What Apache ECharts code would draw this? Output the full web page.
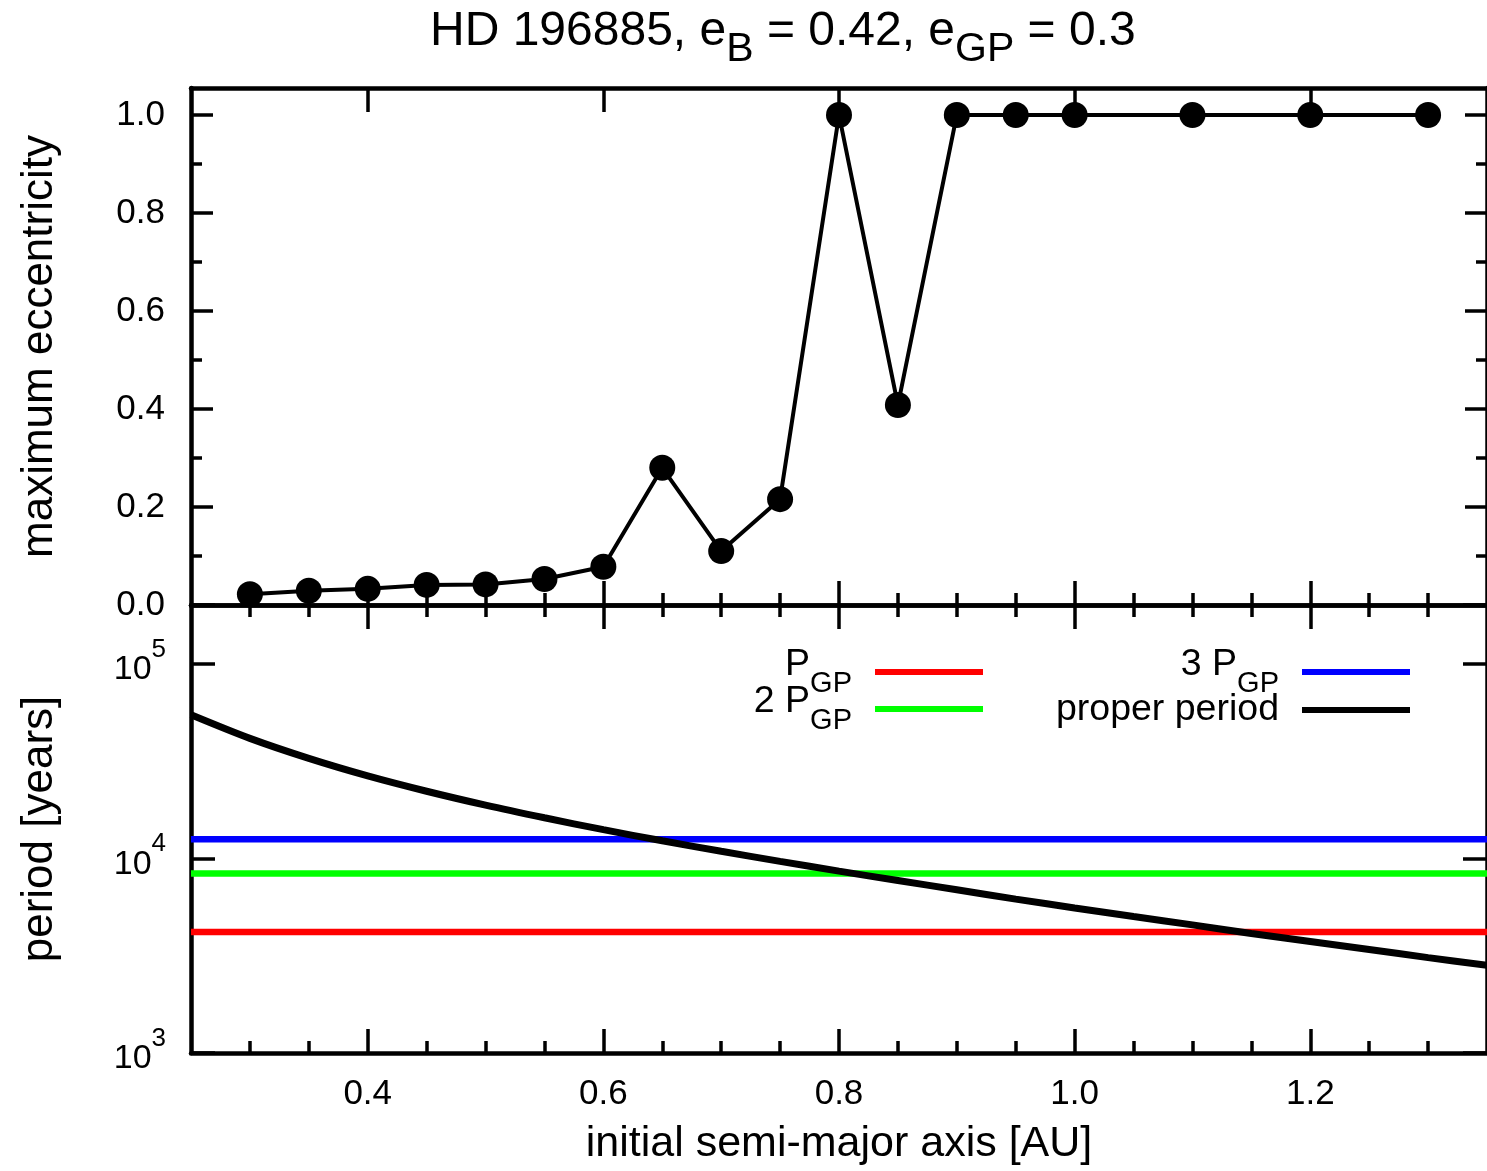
<!DOCTYPE html>
<html><head><meta charset="utf-8">
<script src="https://cdn.jsdelivr.net/npm/echarts@6/dist/echarts.min.js"></script>
<style>html,body{margin:0;padding:0;background:#fff}#c{width:1487px;height:1171px}</style>
</head><body><div id="c"></div>
<script>
// ---- data ----
const aTop = [0.30,0.35,0.40,0.45,0.50,0.55,0.60,0.65,0.70,0.75,0.80,0.85,0.90,0.95,1.00,1.10,1.20,1.30];
const eMax = [0.022,0.029,0.033,0.041,0.042,0.053,0.078,0.28,0.11,0.216,1.0,0.408,1.0,1.0,1.0,1.0,1.0,1.0];
const aCurve = [0.25,0.30,0.35,0.40,0.45,0.50,0.55,0.60,0.65,0.70,0.75,0.80,0.85,0.90,0.95,1.00,1.05,1.10,1.15,1.20,1.25,1.30,1.35];
const properPeriod = [54600,41300,32600,26500,22100,18750,16150,14030,12300,10870,9640,8590,7690,6890,6170,5560,5020,4550,4110,3740,3400,3090,2820];
const levelNames = ['P_GP','2 P_GP','3 P_GP'];
const periodLevels = [4180, 8360, 12540];
const xRange = [0.25, 1.35];
const eRange = [0, 1.055];
const pRange = [1000, 200000];
const aTicks = [0.4,0.6,0.8,1.0,1.2];
const aMinorTicks = [0.3,0.35,0.45,0.5,0.55,0.65,0.7,0.75,0.85,0.9,0.95,1.05,1.1,1.15,1.25,1.3];
const eTicks = [0,0.2,0.4,0.6,0.8,1.0];
const eMinorTicks = [0.1,0.3,0.5,0.7,0.9];

// ---- styling ----
const FONT = "'Liberation Sans', Arial, Helvetica, sans-serif";
const AXW = 4.5, TKW = 3.5, MAJ = 24, MIN = 12;
const levelColors = ['#ff0000','#00ff00','#0000ff'];

function xAx(grid, pos, ticks, len, extra) {
  return Object.assign({
    type:'value', gridIndex:grid, position:pos, min:xRange[0], max:xRange[1],
    axisLine:{show:true, onZero:false, lineStyle:{color:'#000', width:AXW}},
    axisTick:{show:true, inside:true, length:len, customValues:ticks, lineStyle:{color:'#000', width:TKW}},
    axisLabel:{show:false}, splitLine:{show:false}
  }, extra || {});
}
function yAx(grid, pos, ticks, len, extra) {
  return Object.assign({
    type:'value', gridIndex:grid, position:pos, min:eRange[0], max:eRange[1],
    axisLine:{show:true, onZero:false, lineStyle:{color:'#000', width:AXW}},
    axisTick:{show:true, inside:true, length:len, customValues:ticks, lineStyle:{color:'#000', width:TKW}},
    axisLabel:{show:false}, splitLine:{show:false}
  }, extra || {});
}
function logFmt(v) {
  const e = Math.log10(v);
  if (Math.abs(e - Math.round(e)) > 1e-6) return '';
  return '{b|10}{s|' + Math.round(e) + '}';
}
function logAx(pos, extra) {
  return Object.assign({
    type:'log', logBase:10, gridIndex:1, position:pos, min:pRange[0], max:pRange[1],
    axisLine:{show:true, onZero:false, lineStyle:{color:'#000', width:AXW}},
    axisTick:{show:true, inside:true, length:MAJ, lineStyle:{color:'#000', width:TKW}},
    minorTick:{show:false}, axisLabel:{show:false}, splitLine:{show:false}
  }, extra || {});
}

const nameStyle = {fontFamily:FONT, fontSize:44, color:'#000'};
const tickFont = {fontFamily:FONT, fontSize:35, color:'#000'};

const legendLabels = {
  'P_GP':'{b|P}{s|GP}{sp| }',
  '2 P_GP':'{b|2 P}{s|GP}{sp| }',
  '3 P_GP':'{b|3 P}{s|GP}{sp| }',
  'proper period':'{m|proper period}{sp| }'
};
const legendPos = [
  {name:'P_GP', right:504, top:646},
  {name:'2 P_GP', right:504, top:683},
  {name:'3 P_GP', right:77, top:646},
  {name:'proper period', right:77, top:691}
];
const legendRich = {
  b:{fontFamily:FONT, fontSize:37.5, lineHeight:37, verticalAlign:'top', color:'#000'},
  s:{fontFamily:FONT, fontSize:29, lineHeight:30, verticalAlign:'bottom', color:'#000'},
  m:{fontFamily:FONT, fontSize:37.5, lineHeight:51, color:'#000'},
  sp:{fontFamily:FONT, fontSize:10, width:18, lineHeight:52}
};

const chart = echarts.init(document.getElementById('c'));
chart.setOption({
  animation:false,
  backgroundColor:'#fff',
  title:{
    text:'{b|HD 196885, e}{s|B}{b| = 0.42, e}{s|GP}{b| = 0.3}',
    left:430, top:8, padding:0,
    textStyle:{fontFamily:FONT, fontWeight:'normal', color:'#000',
      rich:{
        b:{fontFamily:FONT, fontSize:48, lineHeight:48, verticalAlign:'top', color:'#000'},
        s:{fontFamily:FONT, fontSize:41, lineHeight:62, verticalAlign:'bottom', color:'#000'}
      }}
  },
  legend: legendPos.map(p => ({
    data:[p.name], right:p.right, top:p.top, orient:'vertical', align:'right',
    icon:'rect', itemWidth:108, itemHeight:6, padding:0, selectedMode:false,
    formatter: n => legendLabels[n],
    textStyle:{fontFamily:FONT, fontSize:37.5, color:'#000', rich:legendRich}
  })),
  grid:[
    {left:191, right:-8, top:88, height:517},
    {left:191, right:-8, top:605, height:448}
  ],
  xAxis:[
    xAx(0,'bottom',aTicks,MAJ),
    xAx(0,'bottom',aMinorTicks,MIN,{axisLine:{show:false}}),
    xAx(0,'top',aTicks,MAJ),
    xAx(0,'top',aMinorTicks,MIN,{axisLine:{show:false}}),
    xAx(1,'bottom',aTicks,MAJ,{
      axisLabel:Object.assign({show:true, customValues:aTicks, margin:24, formatter:v=>v.toFixed(1)}, tickFont),
      name:'initial semi-major axis [AU]', nameLocation:'middle', nameGap:70,
      nameTextStyle:Object.assign({}, nameStyle, {fontSize:43})
    }),
    xAx(1,'bottom',aMinorTicks,MIN,{axisLine:{show:false}}),
    xAx(1,'top',aTicks,MAJ),
    xAx(1,'top',aMinorTicks,MIN,{axisLine:{show:false}})
  ],
  yAxis:[
    yAx(0,'left',eTicks,MAJ-2,{
      axisLabel:Object.assign({show:true, customValues:eTicks, margin:26, formatter:v=>v.toFixed(1)}, tickFont),
      name:'maximum eccentricity', nameLocation:'middle', nameGap:129, nameRotate:90, nameTextStyle:nameStyle
    }),
    yAx(0,'left',eMinorTicks,MIN-1,{axisLine:{show:false}}),
    yAx(0,'right',eTicks,MAJ-2),
    yAx(0,'right',eMinorTicks,MIN-1,{axisLine:{show:false}}),
    logAx('left',{
      axisLabel:{show:true, margin:25, formatter:logFmt, padding:[0,0,4,0],
        rich:{
          b:{fontFamily:FONT, fontSize:34, lineHeight:50, verticalAlign:'bottom', color:'#000'},
          s:{fontFamily:FONT, fontSize:26, lineHeight:27, verticalAlign:'top', color:'#000'}
        }},
      name:'period [years]', nameLocation:'middle', nameGap:129, nameRotate:90, nameTextStyle:nameStyle
    }),
    logAx('right')
  ],
  series:[
    {type:'line', name:'eccentricity', xAxisIndex:0, yAxisIndex:0,
     data: aTop.map((a,i)=>[a, eMax[i]]), symbol:'circle', symbolSize:26,
     itemStyle:{color:'#000'}, lineStyle:{color:'#000', width:4}, silent:true, z:3},
    ...levelNames.map((n,i)=>({type:'line', name:n, xAxisIndex:4, yAxisIndex:4,
     data: xRange.map(x=>[x, periodLevels[i]]), symbol:'none',
     lineStyle:{color:levelColors[i], width:6.5}, itemStyle:{color:levelColors[i]}, silent:true})),
    {type:'line', name:'proper period', xAxisIndex:4, yAxisIndex:4,
     data: aCurve.map((a,i)=>[a, properPeriod[i]]), symbol:'none', smooth:0.3,
     lineStyle:{color:'#000', width:7}, itemStyle:{color:'#000'}, silent:true, z:3}
  ]
});
</script></body></html>
